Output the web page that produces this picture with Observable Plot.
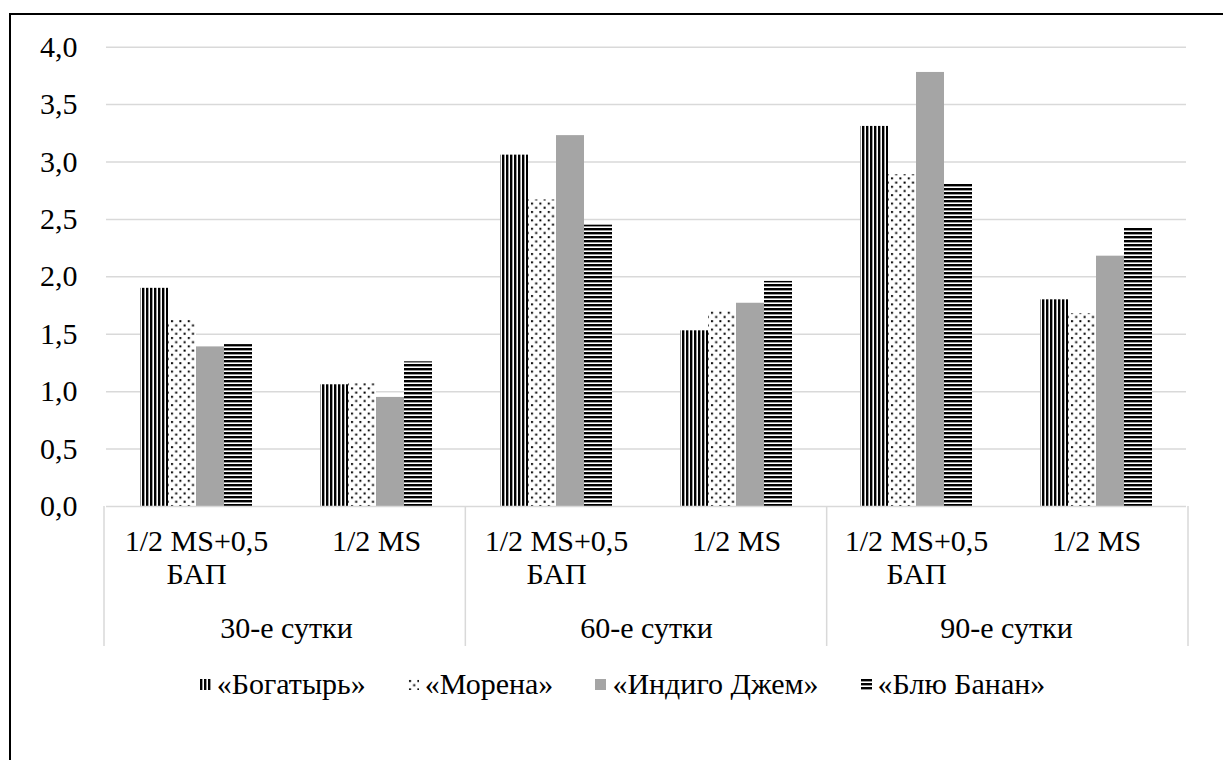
<!DOCTYPE html>
<html>
<head>
<meta charset="utf-8">
<script src="https://cdn.jsdelivr.net/npm/d3@7"></script>
<script src="https://cdn.jsdelivr.net/npm/@observablehq/plot@0.6"></script>
</head>
<body style="margin:0;padding:0;background:#fff;overflow:hidden;width:1223px;height:760px;position:relative;font-family:'Times New Roman','Liberation Serif',Tinos,serif">
<div id="border" style="position:absolute;left:9px;top:13px;width:1400px;height:900px;border-left:2.5px solid #000;border-top:2.5px solid #000"></div>
<div id="chart" style="position:absolute;left:0;top:0"></div>
<div id="legend" style="position:absolute;left:0;top:667px;width:1245px;display:flex;justify-content:center;align-items:center;font-family:'Times New Roman','Liberation Serif',Tinos,serif;font-size:30px;color:#000"></div>
<script>
const groups = ["30-е сутки", "60-е сутки", "90-е сутки"];
const media = ["1/2 MS+0,5\nБАП", "1/2 MS"];
const series = ["«Богатырь»", "«Морена»", "«Индиго Джем»", "«Блю Банан»"];
const bogatyr = [1.90, 1.06, 3.06, 1.53, 3.31, 1.80];
const morena  = [1.62, 1.07, 2.67, 1.70, 2.89, 1.68];
const indigo  = [1.39, 0.95, 3.23, 1.77, 3.78, 2.18];
const blue    = [1.41, 1.26, 2.45, 1.96, 2.81, 2.43];
const yTicks = [0, 0.5, 1, 1.5, 2, 2.5, 3, 3.5, 4];

const patterns = ["url(#p-vert)", "url(#p-dots)", "url(#p-gray)", "url(#p-horz)"];
const FONT = "'Times New Roman', 'Liberation Serif', Tinos, serif";
const FS = 30;

const cats = [];
groups.forEach((g, gi) => media.forEach((m, mi) => cats.push({key: g + "|" + mi, group: g, label: m, first: mi === 0})));
const seriesValues = [bogatyr, morena, indigo, blue];
const data = [];
cats.forEach((c, ci) => series.forEach((s, si) => data.push({cat: c.key, series: s, value: seriesValues[si][ci]})));

const W = 1223, H = 660;
const plot = Plot.plot({
  width: W, height: H,
  marginLeft: 104, marginRight: 35, marginTop: 46.7, marginBottom: H - 506,
  style: {fontFamily: FONT, fontSize: FS + "px", color: "#000", background: "transparent", overflow: "visible"},
  fx: {domain: cats.map(d => d.key), padding: 0, axis: null, label: null},
  x: {domain: series, paddingInner: 0, paddingOuter: 1.115, axis: null},
  y: {domain: [0, 4], ticks: yTicks, tickFormat: d => d.toFixed(1).replace(".", ","), tickSize: 0, tickPadding: 29, label: null},
  color: {domain: series, range: patterns},
  marks: [
    Plot.gridY(yTicks.filter(t => t > 0), {stroke: "#d9d9d9", strokeOpacity: 1, strokeWidth: 1.5}),
    Plot.barY(data, {fx: "cat", x: "series", y: "value", fill: "series"}),
    Plot.ruleY([0], {stroke: "#d9d9d9", strokeWidth: 1.5}),
    Plot.text(cats, {fx: "key", text: "label", frameAnchor: "bottom", lineAnchor: "top", dy: 20, lineHeight: 1.13, fill: "#000", fontSize: FS, fontFamily: FONT}),
    Plot.text(cats.filter(d => d.first), {fx: "key", text: "group", frameAnchor: "bottom-right", textAnchor: "middle", lineAnchor: "top", dy: 110, fill: "#000", fontSize: FS, fontFamily: FONT})
  ]
});

const defs = `
<defs>
  <pattern id="p-vert" patternUnits="userSpaceOnUse" width="4" height="4">
    <rect width="4" height="4" fill="#fff"/><rect x="0" width="2.4" height="4" fill="#000"/>
  </pattern>
  <pattern id="p-horz" patternUnits="userSpaceOnUse" width="4" height="4">
    <rect width="4" height="4" fill="#fff"/><rect y="0" width="4" height="2.4" fill="#000"/>
  </pattern>
  <pattern id="p-dots" patternUnits="userSpaceOnUse" width="8.4" height="8.4">
    <rect width="8.4" height="8.4" fill="#fff"/>
    <rect x="1" y="1" width="2" height="2" fill="#000"/>
    <rect x="5.2" y="5.2" width="2" height="2" fill="#000"/>
  </pattern>
  <pattern id="p-gray" patternUnits="userSpaceOnUse" width="4" height="4">
    <rect width="4" height="4" fill="#a5a5a5"/>
  </pattern>
</defs>`;
d3.select(plot).insert("g", ":first-child").html(defs);

const fxS = plot.scale("fx");
const band = d3.scaleBand().domain(fxS.domain).range(fxS.range)
  .paddingInner(fxS.paddingInner ?? 0).paddingOuter(fxS.paddingOuter ?? 0).align(fxS.align ?? 0.5);
const y0 = plot.scale("y").apply(0);
const edges = [band(cats[0].key)];
groups.forEach(g => { const last = cats.filter(c => c.group === g).pop(); edges.push(band(last.key) + band.bandwidth()); });
const sepG = d3.select(plot).append("g").attr("stroke", "#d9d9d9").attr("stroke-width", 1.5);
edges.forEach(x => sepG.append("line").attr("x1", x).attr("x2", x).attr("y1", y0).attr("y2", y0 + 140));

document.getElementById("chart").appendChild(plot);

const leg = d3.select("#legend");
series.forEach((s, i) => {
  const it = leg.append("div").style("display", "flex").style("align-items", "center").style("margin", "0 21px");
  const sv = it.append("svg").attr("width", 11).attr("height", 11).style("margin-right", "6px");
  sv.append("rect").attr("width", 11).attr("height", 11).attr("fill", patterns[i]);
  it.append("span").style("font-family", FONT).text(s);
});
</script>
</body>
</html>
